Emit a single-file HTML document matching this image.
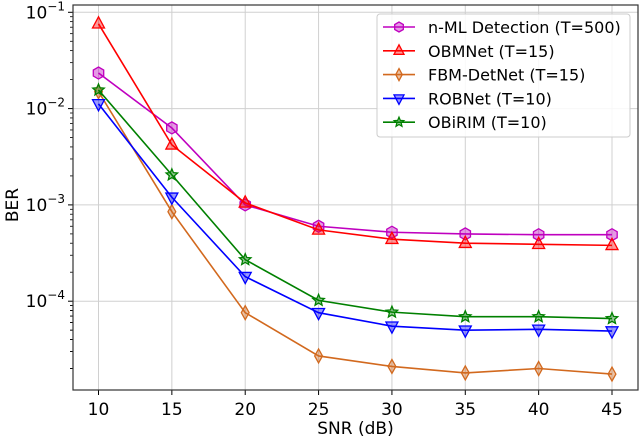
<!DOCTYPE html>
<html><head><meta charset="utf-8"><style>
body{margin:0;background:#fff}
svg text{font-family:"DejaVu Sans","Liberation Sans",sans-serif;fill:#000}
</style></head><body>
<svg id="chart" width="640" height="437" xmlns="http://www.w3.org/2000/svg">
<g id="grid"></g>
<g id="axes"></g>
<g id="series"></g>
<g id="legend"></g>
</svg>
<script>
const snr=[10,15,20,25,30,35,40,45];
const xTicks=[10,15,20,25,30,35,40,45];
const yDecades=[-1,-2,-3,-4];
const names=["n-ML Detection (T=500)","OBMNet (T=15)","FBM-DetNet (T=15)","ROBNet (T=10)","OBiRIM (T=10)"];
const nml=[0.0234,0.0063,0.001,0.0006,0.00052,0.0005,0.00049,0.00049];
const obmnet=[0.076,0.0042,0.00105,0.00055,0.00044,0.0004,0.00039,0.00038];
const fbm=[0.015,0.00085,0.000076,0.000027,0.000021,0.000018,0.00002,0.0000175];
const robnet=[0.0112,0.0012,0.00018,0.000076,0.000055,0.00005,0.000051,0.000049];
const obirim=[0.0156,0.00205,0.00027,0.000102,0.000077,0.000069,0.000069,0.000066];
const seriesData=[nml,obmnet,fbm,robnet,obirim];
const colors=["#bf00bf","#ff0000","#d2691e","#0000ff","#008000"];
const markers=["hex","tri","dia","tridown","star"];
const NS="http://www.w3.org/2000/svg";
const L=73,R=638,T=5,B=390;
const xs=v=>98.5+(v-10)*(612-98.5)/35;
const ys=v=>12.3+(-1-Math.log10(v))*96.3;
function mk(tag,attrs,parent){const e=document.createElementNS(NS,tag);for(const k in attrs)e.setAttribute(k,attrs[k]);parent.appendChild(e);return e;}
const grid=document.getElementById('grid'),axes=document.getElementById('axes'),ser=document.getElementById('series'),leg=document.getElementById('legend');
xTicks.forEach(t=>{const x=xs(t);
 const g=mk('line',{x1:x,x2:x,y1:T,y2:B,stroke:'#d0d0d0','stroke-width':1},grid);
 
 mk('line',{x1:x,x2:x,y1:B,y2:B+5,stroke:'#000'},axes);
 const tx=mk('text',{x:x,y:B+25,'text-anchor':'middle','font-size':17},axes);tx.textContent=t;
 
});
yDecades.forEach(d=>{const y=ys(Math.pow(10,d));
 const g=mk('line',{x1:L,x2:R,y1:y,y2:y,stroke:'#d0d0d0','stroke-width':1},grid);
 
 mk('line',{x1:L-5,x2:L,y1:y,y2:y,stroke:'#000'},axes);
 const tx=mk('text',{x:L-8,y:y+6,'text-anchor':'end','font-size':17},axes);
 
 tx.innerHTML='10<tspan dy="-8" font-size="12">−'+(-d)+'</tspan>';
 for(let m=2;m<10;m++){const v=Math.pow(10,d-1)*m;const yy=ys(v);if(yy>B||yy<T)continue;
  mk('line',{x1:L-3,x2:L,y1:yy,y2:yy,stroke:'#000','stroke-width':0.8},axes);}
});
for(let m=2;m<10;m++){const yy=ys(Math.pow(10,-5)*m);if(yy<B)mk('line',{x1:L-3,x2:L,y1:yy,y2:yy,stroke:'#000','stroke-width':0.8},axes);}
const frame=mk('rect',{x:L,y:T,width:R-L,height:B-T,fill:'none',stroke:'#333','stroke-width':1.2},axes);

const xl=mk('text',{x:(L+R)/2,y:434,'text-anchor':'middle','font-size':17},axes);xl.textContent='SNR (dB)';

const yl=mk('text',{x:0,y:0,'text-anchor':'middle','font-size':17,transform:'translate(18,205) rotate(-90)'},axes);yl.textContent='BER';

function marker(type,x,y,c,parent,s){s=s||6;let e;
 if(type==='hex'){const p=[];for(let i=0;i<6;i++){const a=Math.PI/6+i*Math.PI/3;p.push((x+s*Math.cos(a))+','+(y+s*Math.sin(a)));}e=mk('polygon',{points:p.join(' ')},parent);}
 else if(type==='tri')e=mk('polygon',{points:`${x},${y-s-1} ${x-s},${y+s*0.7} ${x+s},${y+s*0.7}`},parent);
 else if(type==='tridown')e=mk('polygon',{points:`${x},${y+s+1} ${x-s},${y-s*0.7} ${x+s},${y-s*0.7}`},parent);
 else if(type==='dia')e=mk('polygon',{points:`${x},${y-s-1} ${x+s*0.65},${y} ${x},${y+s+1} ${x-s*0.65},${y}`},parent);
 else{const p=[];for(let i=0;i<10;i++){const r=i%2?s*0.45:s;const a=-Math.PI/2+i*Math.PI/5;p.push((x+r*Math.cos(a))+','+(y+r*Math.sin(a)));}e=mk('polygon',{points:p.join(' ')},parent);}
 e.setAttribute('fill',c);e.setAttribute('fill-opacity',0.4);e.setAttribute('stroke',c);e.setAttribute('stroke-width',1.3);return e;}
seriesData.forEach((d,i)=>{
 const g=mk('g',{},ser);
 const pl=mk('polyline',{points:d.map((v,j)=>xs(snr[j])+','+ys(v)).join(' '),fill:'none',stroke:colors[i],'stroke-width':1.6},g);
 
 d.forEach((v,j)=>{const m=marker(markers[i],xs(snr[j]),ys(v),colors[i],g);
  });
});
const lb=mk('rect',{x:377,y:14,width:253,height:123,rx:3,fill:'#fff','fill-opacity':0.85,stroke:'#ccc'},leg);

names.forEach((n,i)=>{const y=27+i*23.8;
 const g=mk('g',{},leg);
 mk('line',{x1:383,x2:415,y1:y,y2:y,stroke:colors[i],'stroke-width':1.6},g);
 marker(markers[i],399,y,colors[i],g,5);
 const t=mk('text',{x:428,y:y+6,'font-size':16},g);t.textContent=n;
});
</script>
</body></html>
